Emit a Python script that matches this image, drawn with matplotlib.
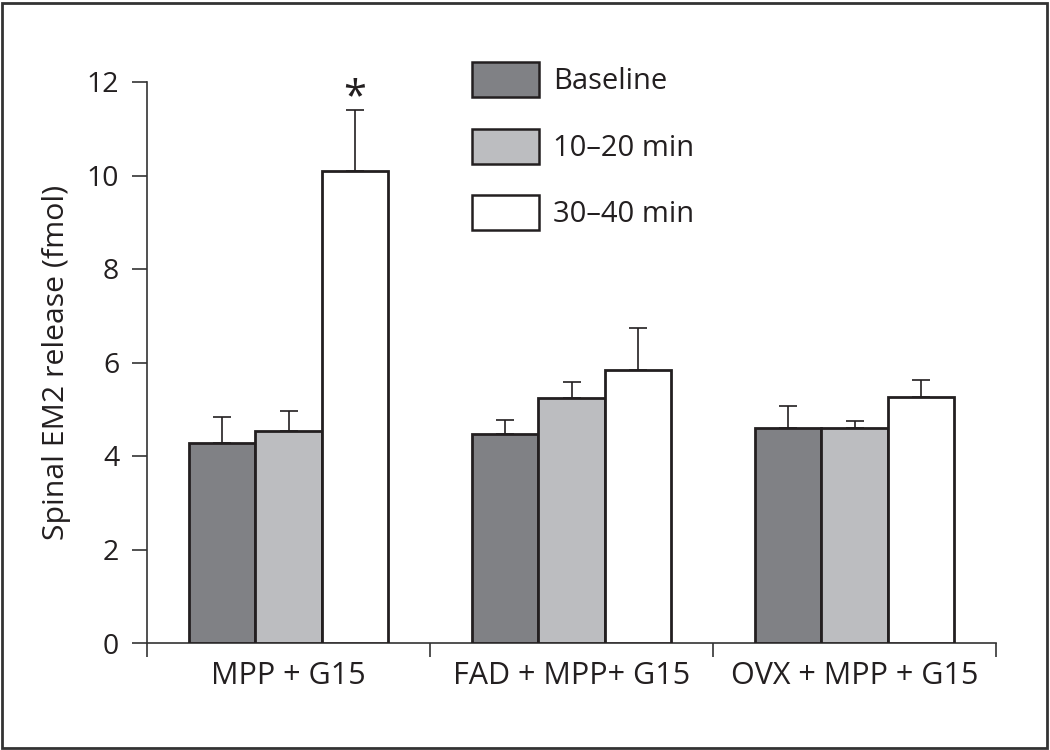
import matplotlib
matplotlib.use("Agg")
import matplotlib.pyplot as plt
from matplotlib.patches import Patch, Rectangle
import numpy as np

plt.rcParams['font.family'] = ['Open Sans', 'DejaVu Sans']

groups = ["MPP + G15", "FAD + MPP+ G15", "OVX + MPP + G15"]
series = ["Baseline", "10\u201320 min", "30\u201340 min"]
baseline = [4.27, 4.46, 4.60]
min10_20 = [4.53, 5.24, 4.59]
min30_40 = [10.09, 5.84, 5.27]
err_baseline = [0.56, 0.30, 0.46]
err_10_20 = [0.44, 0.34, 0.15]
err_30_40 = [1.32, 0.89, 0.36]
star_group = 0
star_series = 2
star_y = 11.2
yticks = [0, 2, 4, 6, 8, 10, 12]
ylabel = "Spinal EM2 release (fmol)"

values = [baseline, min10_20, min30_40]
errors = [err_baseline, err_10_20, err_30_40]
colors = ["#808185", "#bcbdc0", "#ffffff"]
edge = "#231f20"
axis_col = "#333333"

fig = plt.figure(figsize=(10.5, 7.5), dpi=100)
ax = fig.add_axes([147/1050, 1-643/750, (996-147)/1050, (643-82)/750])

x = np.arange(len(groups))
w = 0.235
for i, (vals, errs, c) in enumerate(zip(values, errors, colors)):
    pos = x + (i - 1) * w
    ax.bar(pos, vals, width=w, color=c, edgecolor=edge, linewidth=2.0, zorder=3)
    ax.errorbar(pos, vals, yerr=[np.zeros(len(errs)), errs], fmt='none',
                ecolor=edge, elinewidth=1.2, capsize=6.5, capthick=1.2, zorder=2)

ax.text(x[star_group] + (star_series - 1) * w, star_y, "*", ha='center', va='bottom',
        fontsize=30, color=edge)

ax.set_xlim(-0.5, 2.5)
ax.set_ylim(0, 12)
ax.set_yticks(yticks)
ax.set_yticklabels([str(t) for t in yticks])
ax.set_xticks([-0.5, 0.5, 1.5, 2.5])
ax.set_xticklabels([])
ax.set_xticks(x, minor=True)
ax.set_xticklabels(groups, minor=True)

for s in ['top', 'right']:
    ax.spines[s].set_visible(False)
for s in ['left', 'bottom']:
    ax.spines[s].set_color(axis_col)
    ax.spines[s].set_linewidth(1.2)

ax.tick_params(axis='y', which='major', direction='out', length=11, width=1.2,
               color=axis_col, labelsize=20.5, pad=9, labelcolor='#231f20')
ax.tick_params(axis='x', which='major', direction='out', length=10, width=1.2,
               color=axis_col)
ax.tick_params(axis='x', which='minor', length=0, labelsize=22, pad=13,
               labelcolor='#231f20')

fig.text(57/1050, 1-362.5/750, ylabel, rotation=90, ha='center', va='center',
         fontsize=21.8, color='#231f20')

handles = [Patch(facecolor=c, edgecolor=edge, linewidth=1.8) for c in colors]
leg = ax.legend(handles, series, loc='upper left',
                bbox_to_anchor=(472/1050, 1-62/750), bbox_transform=fig.transFigure,
                frameon=False, fontsize=21, handlelength=2.3, handleheight=1.47,
                handletextpad=0.47, labelspacing=1.08, borderpad=0, borderaxespad=0)
for t in leg.get_texts():
    t.set_color('#231f20')

fig.patches.append(Rectangle((2/1050, 2/750), 1045/1050, 745/750, transform=fig.transFigure,
                             fill=False, edgecolor='#333333', linewidth=2, zorder=10))

fig.savefig("out.png", dpi=100)
